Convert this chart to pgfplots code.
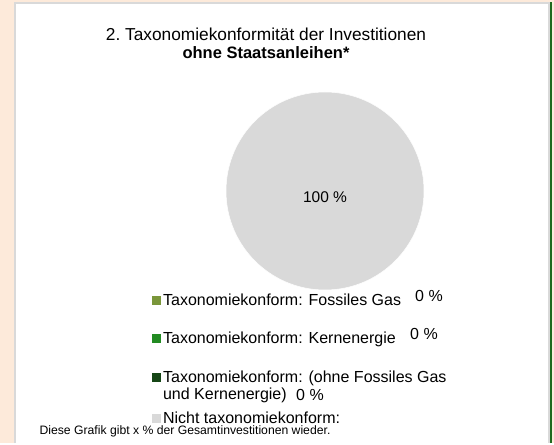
\documentclass[border=0pt]{standalone}
\usepackage{pgfplots}
\pgfplotsset{compat=1.18}
\usepackage{fontspec}
\setmainfont{Liberation Sans}

\definecolor{peach}{RGB}{253,234,218}
\definecolor{frameGreen}{RGB}{31,106,31}
\definecolor{pieGray}{RGB}{217,217,217}
\definecolor{gasColor}{RGB}{122,150,58}
\definecolor{kernColor}{RGB}{34,139,34}
\definecolor{ohneColor}{RGB}{22,70,22}

\begin{document}
\begin{tikzpicture}
% background and white panel
\fill[peach] (0,0) rectangle (554pt,443pt);
\fill[white] (15pt,0) rectangle (549pt,440pt);
\draw[pieGray, line width=1.5pt] (15pt,0) -- (15pt,440pt) -- (549pt,440pt) -- (549pt,0);
\draw[frameGreen, line width=1.5pt] (550.8pt,0) -- (550.8pt,440.5pt);

\begin{axis}[
    at={(0,0)}, anchor=south west,
    scale only axis,
    width=554pt, height=443pt,
    xmin=0, xmax=554, ymin=0, ymax=443,
    hide axis,
    clip=false,
    /pgf/number format/assume math mode=true,
    legend style={at={(axis cs:152,157)}, anchor=north west,
        draw=none, fill=none, inner sep=0pt,
        row sep=0pt, column sep=3pt,
        nodes={inner sep=0pt, text depth=},
        font=\fontsize{16}{17}\selectfont},
    legend cell align=left,
]
% titles
\node[anchor=base, font=\fontsize{17.3}{19}\selectfont] at (axis cs:266,402)
    {2.\ Taxonomiekonformität der Investitionen};
\node[anchor=base, font=\fontsize{16.5}{19}\selectfont\bfseries] at (axis cs:266,384)
    {ohne Staatsanleihen*};

% pie: only one slice (Nicht taxonomiekonform, 100 %)
\addplot[draw=none, mark=none, forget plot,
    point meta=explicit,
    nodes near coords={\pgfmathprintnumber{\pgfplotspointmeta}~\%},
    every node near coord/.append style={circle, fill=pieGray, draw=white,
        line width=0.5pt, minimum size=198pt, inner sep=0pt, anchor=center,
        text=black, text height=23pt, text depth=0pt,
        font=\fontsize{15.5}{18}\selectfont}]
    coordinates {(325,252) [100]};

% zero-value slices: labels only
\addplot[draw=none, mark=none, forget plot, point meta=explicit,
    nodes near coords={\pgfmathprintnumber{\pgfplotspointmeta}~\%},
    every node near coord/.append style={text=black, anchor=base,
        font=\fontsize{16}{18}\selectfont}]
    coordinates {(429,141) [0]};
\addplot[draw=none, mark=none, forget plot, point meta=explicit,
    nodes near coords={\pgfmathprintnumber{\pgfplotspointmeta}~\%},
    every node near coord/.append style={text=black, anchor=base,
        font=\fontsize{16}{18}\selectfont}]
    coordinates {(424,103) [0]};
\addplot[draw=none, mark=none, forget plot, point meta=explicit,
    nodes near coords={\pgfmathprintnumber{\pgfplotspointmeta}~\%},
    every node near coord/.append style={text=black, anchor=base,
        font=\fontsize{16}{18}\selectfont}]
    coordinates {(310,42) [0]};

% legend
\addlegendimage{legend image code/.code={\fill[gasColor] (0pt,1.5pt) rectangle (7.5pt,9pt); \path[draw=none, fill=none] (0pt,-9pt) -- (0pt,9pt);}}
\addlegendentry{\raisebox{0pt}[19pt][19pt]{Taxonomiekonform: Fossiles Gas}}
\addlegendimage{legend image code/.code={\fill[kernColor] (0pt,1.5pt) rectangle (7.5pt,9pt); \path[draw=none, fill=none] (0pt,-9pt) -- (0pt,9pt);}}
\addlegendentry{\raisebox{0pt}[19pt][19pt]{Taxonomiekonform: Kernenergie}}
\addlegendimage{legend image code/.code={\fill[ohneColor] (0pt,1.5pt) rectangle (7.5pt,9pt); \path[draw=none, fill=none] (0pt,-9pt) -- (0pt,9pt);}}
\addlegendentry{\raisebox{0pt}[20pt][20pt]{\begin{tabular}[t]{@{}l@{}}Taxonomiekonform: (ohne Fossiles Gas\\und Kernenergie)\end{tabular}}}
\addlegendimage{legend image code/.code={\fill[pieGray] (0pt,1.5pt) rectangle (7.5pt,9pt); \path[draw=none, fill=none] (0pt,-9pt) -- (0pt,9pt);}}
\addlegendentry{\raisebox{0pt}[21pt][21pt]{Nicht taxonomiekonform:}}

% footnote
\node[anchor=base west, font=\fontsize{12.2}{14}\selectfont] at (axis cs:36,9)
    {Diese Grafik gibt x \% der Gesamtinvestitionen wieder.};
\end{axis}
\end{tikzpicture}
\end{document}
